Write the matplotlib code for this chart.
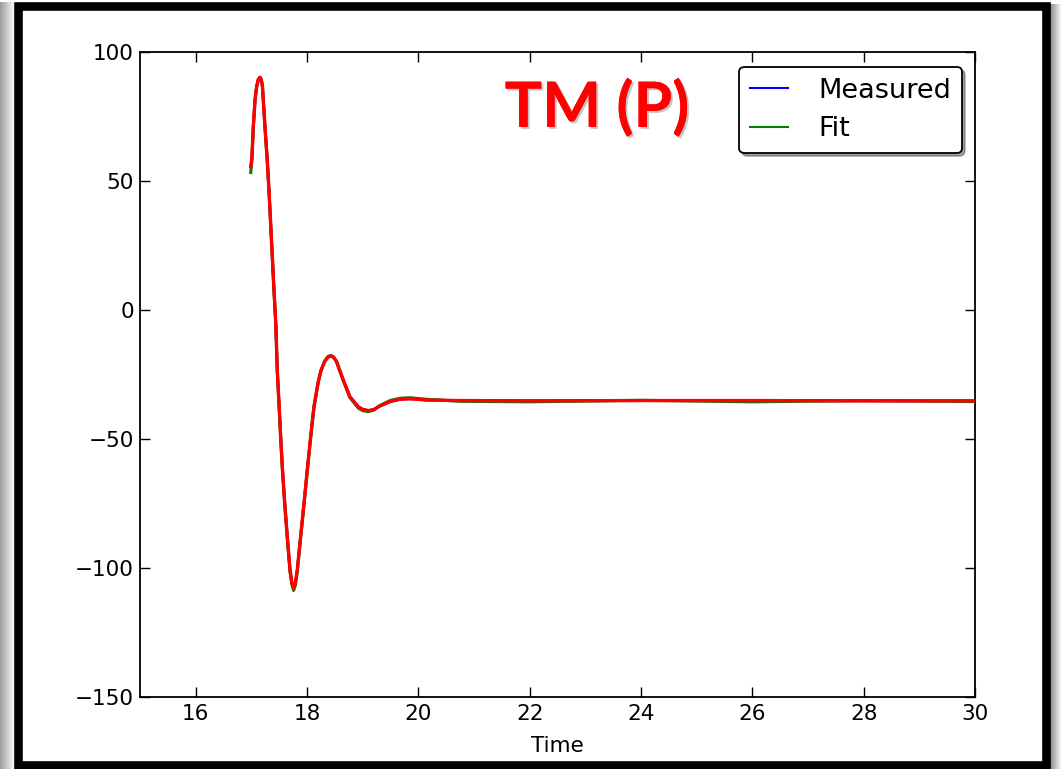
import matplotlib
matplotlib.use("Agg")
import matplotlib.pyplot as plt
import matplotlib.patheffects as pe
from matplotlib.patches import Rectangle
import numpy as np

# ---- data ----
time = [16.99, 17.01, 17.035, 17.066, 17.095, 17.125, 17.156, 17.18, 17.20, 17.245,
        17.286, 17.32, 17.35, 17.38, 17.41, 17.44, 17.466, 17.497, 17.527, 17.56,
        17.60, 17.646, 17.695, 17.73, 17.76, 17.79, 17.825, 17.885, 17.946, 18.005,
        18.066, 18.125, 18.20, 18.25, 18.32, 18.38, 18.43, 18.48, 18.53, 18.65,
        18.77, 18.92, 19.00, 19.10, 19.20, 19.31, 19.49, 19.67, 19.85, 20.15,
        20.75, 22.0, 24.0, 26.0, 28.0, 30.0]
measured = [55.5, 59.0, 71.0, 81.4, 86.6, 89.3, 90.2, 89.2, 86.6, 71.0,
            58.1, 45.2, 32.3, 19.4, 6.5, -5.5, -23.3, -36.2, -49.1, -62.0,
            -74.9, -87.9, -100.8, -105.8, -107.9, -106.0, -100.8, -87.9, -74.9, -62.0,
            -49.1, -37.5, -28.0, -23.5, -19.8, -18.2, -17.8, -18.4, -20.0, -27.1,
            -33.6, -37.5, -38.5, -39.0, -38.6, -37.2, -35.5, -34.6, -34.4, -34.9,
            -35.1, -35.2, -35.1, -35.1, -35.2, -35.2]
fit = [53.3, 58.0, 70.5, 81.0, 86.4, 89.2, 90.1, 89.1, 86.5, 70.8,
       57.8, 44.9, 32.0, 19.0, 6.1, -6.0, -23.8, -36.7, -49.6, -62.5,
       -75.4, -88.4, -101.4, -106.5, -108.7, -106.7, -101.4, -88.5, -75.4, -62.4,
       -49.4, -37.8, -28.2, -23.6, -19.8, -18.0, -17.6, -18.2, -19.9, -27.2,
       -33.9, -38.0, -39.0, -39.4, -38.8, -37.0, -35.1, -34.2, -34.0, -34.6,
       -35.4, -35.6, -35.0, -35.6, -35.1, -35.5]
series_labels = ["Measured", "Fit"]
title_text = "TM (P)"
x_label = "Time"
x_ticks = [16, 18, 20, 22, 24, 26, 28, 30]
y_ticks = [-150, -100, -50, 0, 50, 100]

W, H = 1061, 769
fig = plt.figure(figsize=(W / 100, H / 100), dpi=100)
fig.patch.set_facecolor("white")

# shadow strips and black frame
for i in range(14):
    g = 0.62 + 0.34 * (i / 13.0)
    fig.patches.append(Rectangle((i / W, 0), 1.0 / W, 1 - 2.0 / H, transform=fig.transFigure,
                                 facecolor=(g, g, g), edgecolor="none", zorder=0))
for i in range(11):
    g = 0.55 + 0.4 * (i / 10.0)
    fig.patches.append(Rectangle((1 - (11 - i) / W, 0), 1.0 / W, 1 - 4.0 / H, transform=fig.transFigure,
                                 facecolor=(g, g, g), edgecolor="none", zorder=0))
fig.patches.append(Rectangle((18 / W, 4.5 / H), (1046 - 18) / W, (763 - 4.5) / H,
                             transform=fig.transFigure, facecolor="white",
                             edgecolor="black", linewidth=6.2, zorder=0.5))

ax = fig.add_axes([140 / W, 1 - 697 / H, (975 - 140) / W, (697 - 52) / H])
ax.set_zorder(2)

ax.plot(time, measured, color="blue", lw=2.0, label=series_labels[0], zorder=2)
ax.plot(time, fit, color="green", lw=2.2, label=series_labels[1], zorder=3)
ax.plot(time, measured, color="red", lw=2.4, zorder=4)

ax.set_xlim(15, 30)
ax.set_ylim(-150, 100)
ax.set_xticks(x_ticks)
ax.set_yticks(y_ticks)
ax.tick_params(direction="in", length=7, width=1.0, top=True, right=True,
               labelsize=15.5, colors="black")
ax.tick_params(axis="y", pad=4.5)
ax.tick_params(axis="x", pad=5)
for s in ax.spines.values():
    s.set_linewidth(1.3)
ax.set_xlabel(x_label, fontsize=15.5, labelpad=9)

leg = ax.legend(loc="upper right", fontsize=19.5, fancybox=True, shadow=True,
                framealpha=1, edgecolor="black", handlelength=1.4, handletextpad=1.12,
                borderpad=0.4, labelspacing=0.46, borderaxespad=0,
                bbox_to_anchor=((962 - 140) / 835, (697 - 67) / 645))
leg.get_frame().set_linewidth(1.3)
leg.set_zorder(5)
for line in leg.get_lines():
    line.set_linewidth(1.5)

ax.text((597 - 140) / 835, (697 - 108) / 645, title_text, transform=ax.transAxes, fontsize=45,
        family="Lato", fontweight="bold", color="red", ha="center", va="center",
        path_effects=[pe.withSimplePatchShadow(offset=(1.5, -1.5), shadow_rgbFace=(0.5, 0.5, 0.5), alpha=0.45),
                      pe.Normal()])

fig.savefig("out.png", dpi=100)
